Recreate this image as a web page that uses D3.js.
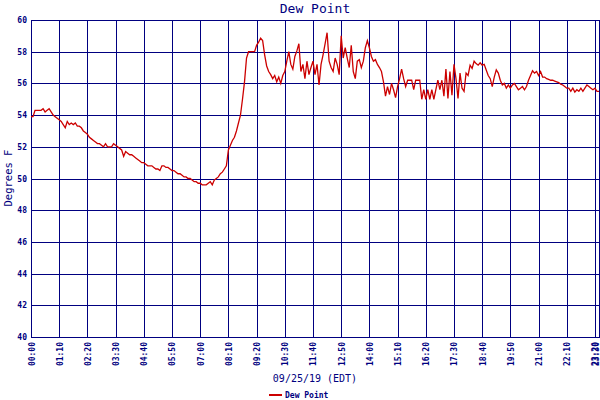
<!DOCTYPE html>
<html>
<head>
<meta charset="utf-8">
<script src="https://cdn.jsdelivr.net/npm/d3@7"></script>
<style>
  body { margin: 0; background: #fff; }
  svg { display: block; font-family: "DejaVu Sans Mono", monospace; }
  .axis text { fill: #000080; }
</style>
</head>
<body>
<script>
// dew point readings (deg F), one every 5 minutes from 00:00 on 09/25/19
var startMinute = 0;
var stepMinutes = 5;
var dewPoint = [
  53.9, 53.9, 54.3, 54.3, 54.3, 54.3, 54.4, 54.2, 54.3, 54.4, 54.2, 54.0,
  53.9, 53.8, 53.7, 53.6, 53.4, 53.2, 53.6, 53.4, 53.5, 53.4, 53.5, 53.3,
  53.3, 53.2, 53.0, 52.9, 52.8, 52.6, 52.5, 52.4, 52.3, 52.2, 52.2, 52.1,
  52.0, 52.2, 52.0, 52.0, 52.0, 52.2, 52.1, 52.0, 51.9, 51.8, 51.4, 51.7,
  51.6, 51.5, 51.5, 51.4, 51.3, 51.2, 51.1, 51.0, 51.0, 50.9, 50.8, 50.8,
  50.8, 50.7, 50.6, 50.6, 50.5, 50.8, 50.8, 50.7, 50.7, 50.6, 50.5, 50.5,
  50.4, 50.3, 50.3, 50.2, 50.1, 50.1, 50.0, 50.0, 49.9, 49.8, 49.8, 49.7,
  49.7, 49.6, 49.6, 49.6, 49.7, 49.8, 49.6, 49.9, 50.0, 50.1, 50.3, 50.4,
  50.6, 50.8, 51.8, 52.1, 52.4, 52.6, 53.0, 53.5, 54.0, 55.0, 56.1, 57.6,
  58.0, 58.0, 58.0, 58.0, 58.4, 58.6, 58.85, 58.7, 57.8, 57.1, 56.75, 56.55,
  56.3, 56.5, 56.1, 56.4, 56.0, 56.5, 56.75, 57.4, 58.0, 57.2, 56.9, 57.7,
  58.05, 58.5, 56.75, 57.2, 56.3, 57.4, 56.55, 57.0, 57.4, 56.55, 57.2, 55.9,
  57.2, 57.8, 58.5, 59.2, 57.4, 57.0, 56.75, 57.6, 57.2, 56.55, 59.0, 57.6,
  58.25, 57.6, 57.0, 58.4, 56.75, 56.3, 57.4, 57.5, 57.0, 57.4, 58.25, 58.7,
  58.25, 57.7, 57.4, 57.5, 57.2, 57.0, 56.75, 56.1, 55.2, 55.8, 55.3, 56.0,
  55.6, 55.1, 55.8, 56.3, 56.9, 56.3, 55.8, 56.2, 56.2, 56.2, 55.6, 56.2,
  56.2, 56.2, 55.0, 55.6, 55.0, 55.6, 55.0, 55.6, 55.0, 55.6, 56.2, 55.6,
  56.2, 55.2, 56.9, 55.05, 56.75, 55.25, 57.2, 56.3, 55.05, 56.65, 55.7, 55.5,
  56.65, 56.5, 57.15, 56.95, 57.4, 57.25, 57.15, 57.3, 57.15, 57.2, 56.85, 56.5,
  56.3, 55.8, 56.4, 56.85, 56.65, 56.2, 55.9, 56.0, 55.7, 55.9, 55.7, 55.9,
  56.0, 55.8, 55.6, 55.7, 55.8, 55.6, 55.8, 56.2, 56.5, 56.8, 56.65, 56.75,
  56.5, 56.75, 56.4, 56.4, 56.3, 56.25, 56.2, 56.2, 56.15, 56.1, 56.05, 55.95,
  55.9, 55.8, 55.7, 55.7, 55.5, 55.7, 55.45, 55.6, 55.5, 55.7, 55.5, 55.7,
  55.9, 55.8, 55.7, 55.6, 55.7, 55.5, 55.5
];

// x axis ticks (minutes after midnight) and their labels
var tickMinutes = [0, 70, 140, 210, 280, 350, 420, 490, 560, 630, 700, 770,
  840, 910, 980, 1050, 1120, 1190, 1260, 1330, 1400, 1410];
var tickLabels = ['00:00', '01:10', '02:20', '03:30', '04:40', '05:50', '07:00',
  '08:10', '09:20', '10:30', '11:40', '12:50', '14:00', '15:10', '16:20',
  '17:30', '18:40', '19:50', '21:00', '22:10', '23:20', '23:30'];
var yTicks = [40, 42, 44, 46, 48, 50, 52, 54, 56, 58, 60];

function drawChart() {
  var width = 600;
  var height = 400;
  var margin = { top: 20, right: 1, bottom: 63, left: 31 };
  var navy = '#000080';
  var red = '#cc0000';

  var svg = d3.select('body')
    .append('svg')
    .attr('width', width)
    .attr('height', height);

  var x = d3.scaleLinear()
    .domain([0, 1410])
    .range([margin.left, width - margin.right]);

  var y = d3.scaleLinear()
    .domain([40, 60])
    .range([height - margin.bottom, margin.top]);

  // y axis with grid lines
  var yAxis = svg.append('g')
    .attr('class', 'axis')
    .attr('transform', 'translate(' + margin.left + ',0)')
    .call(d3.axisLeft(y)
      .tickValues(yTicks)
      .tickSize(-(width - margin.left - margin.right))
      .tickPadding(4));
  yAxis.select('.domain').remove();
  yAxis.selectAll('line')
    .attr('stroke', navy)
    .attr('shape-rendering', 'crispEdges');
  yAxis.selectAll('text')
    .attr('font-size', 8)
    .attr('font-weight', 'bold')
    .attr('font-family', '"DejaVu Sans Mono", monospace');

  // x axis with grid lines, labels turned upright
  var lastTick = tickMinutes.length - 1;
  var xAxis = svg.append('g')
    .attr('class', 'axis')
    .attr('transform', 'translate(0,' + (height - margin.bottom) + ')')
    .call(d3.axisBottom(x)
      .tickValues(tickMinutes)
      .tickFormat(function (d, i) { return tickLabels[i]; })
      .tickSize(-(height - margin.top - margin.bottom)));
  xAxis.select('.domain').remove();
  xAxis.selectAll('line')
    .attr('stroke', navy)
    .attr('shape-rendering', 'crispEdges');
  xAxis.selectAll('text')
    .attr('font-size', 8)
    .attr('font-weight', 'bold')
    .attr('font-family', '"DejaVu Sans Mono", monospace')
    .attr('text-anchor', 'end')
    .attr('dy', null)
    .attr('y', 0)
    .attr('transform', function (d, i) {
      // the last label sits on the right edge, keep it inside
      return 'translate(' + (i === lastTick ? -1 : 3) + ',5) rotate(-90)';
    });

  // frame around the plot
  svg.append('rect')
    .attr('x', margin.left)
    .attr('y', margin.top)
    .attr('width', width - margin.left - margin.right)
    .attr('height', height - margin.top - margin.bottom)
    .attr('fill', 'none')
    .attr('stroke', navy)
    .attr('shape-rendering', 'crispEdges');

  // the dew point line
  var line = d3.line()
    .x(function (d, i) { return x(startMinute + i * stepMinutes); })
    .y(function (d) { return y(d); });

  svg.append('path')
    .datum(dewPoint)
    .attr('d', line)
    .attr('fill', 'none')
    .attr('stroke', red)
    .attr('stroke-width', 1.3);

  // title and axis titles
  svg.append('text')
    .attr('x', 315)
    .attr('y', 13)
    .attr('text-anchor', 'middle')
    .attr('font-size', 13)
    .attr('fill', navy)
    .text('Dew Point');

  svg.append('text')
    .attr('x', 315)
    .attr('y', 382)
    .attr('text-anchor', 'middle')
    .attr('font-size', 10)
    .attr('fill', navy)
    .text('09/25/19 (EDT)');

  svg.append('text')
    .attr('transform', 'translate(12,178) rotate(-90)')
    .attr('text-anchor', 'middle')
    .attr('font-size', 10.5)
    .attr('fill', navy)
    .text('Degrees F');

  // legend
  var legend = svg.append('g').attr('transform', 'translate(269,395)');
  legend.append('line')
    .attr('x1', 0)
    .attr('x2', 13)
    .attr('stroke', red)
    .attr('stroke-width', 2);
  legend.append('text')
    .attr('x', 16)
    .attr('y', 3)
    .attr('font-size', 8)
    .attr('font-weight', 'bold')
    .attr('fill', navy)
    .text('Dew Point');
}

drawChart();
</script>
</body>
</html>
